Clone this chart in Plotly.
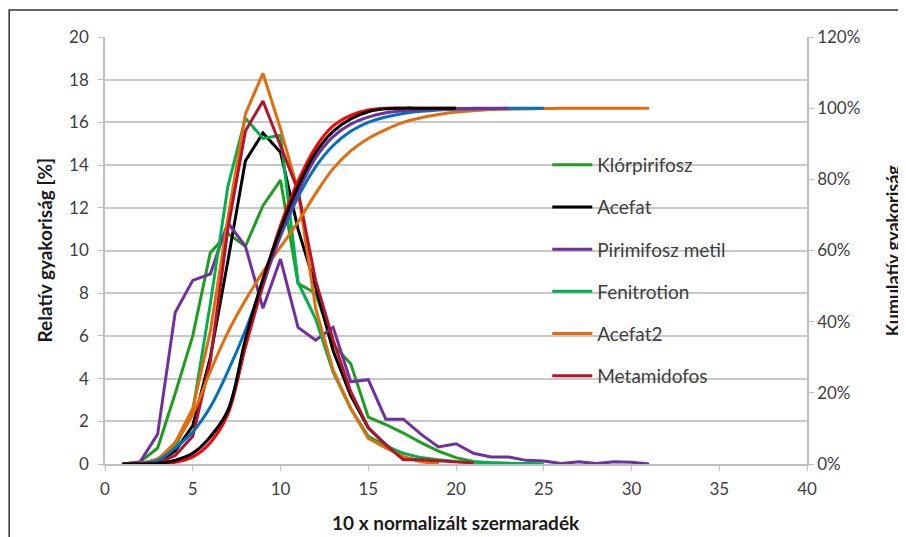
import plotly.graph_objects as go

# ---------------- data ----------------
klor_x = list(range(1, 24))
klor_y = [0, 0.1, 0.75, 3.3, 6.0, 9.9, 10.8, 10.2, 12.1, 13.3, 8.45, 8.0, 5.6, 4.7, 2.2,
          1.85, 1.45, 1.0, 0.6, 0.3, 0.12, 0.05, 0.02]

acefat_x = list(range(1, 20))
acefat_y = [0, 0, 0.1, 0.6, 1.8, 5.0, 9.5, 14.2, 15.5, 14.6, 11.0, 8.3, 5.3, 3.2, 1.7,
            0.9, 0.3, 0.15, 0.05]

pirim_x = list(range(1, 32))
pirim_y = [0, 0.1, 1.4, 7.1, 8.6, 8.9, 11.3, 10.2, 7.3, 9.6, 6.4, 5.8, 6.4, 3.85, 3.95,
           2.1, 2.1, 1.4, 0.8, 0.95, 0.5, 0.33, 0.33, 0.17, 0.14, 0.02, 0.1, 0.02, 0.1,
           0.08, 0.0]

fenit_x = list(range(1, 26))
fenit_y = [0, 0, 0.2, 0.8, 2.5, 7.5, 13.0, 16.2, 15.25, 15.4, 8.5, 6.8, 4.3, 2.6, 1.3,
           0.85, 0.5, 0.3, 0.2, 0.12, 0.08, 0.05, 0.04, 0.02, 0.01]

acefat2_x = list(range(1, 20))
acefat2_y = [0, 0, 0.2, 1.0, 2.6, 6.2, 11.5, 16.4, 18.3, 15.7, 12.8, 7.3, 4.4, 2.6, 1.2,
             0.75, 0.35, 0.1, 0.02]

metam_x = list(range(1, 22))
metam_y = [0, 0, 0.05, 0.4, 1.3, 4.8, 11.0, 15.6, 17.0, 14.9, 12.8, 8.6, 5.8, 3.4, 1.7,
           0.9, 0.2, 0.2, 0.15, 0.1, 0.05]

# cumulative curves (right axis, fraction)
cum_red_x = list(range(1, 21))
cum_red_y = [0, 0, 0.001, 0.005, 0.02, 0.06, 0.14, 0.33, 0.51, 0.67, 0.795, 0.89, 0.95,
             0.98, 0.995, 1.0, 1.0, 1.0, 1.0, 1.0]

cum_black_x = list(range(1, 21))
cum_black_y = [0, 0, 0.002, 0.01, 0.03, 0.077, 0.15, 0.35, 0.52, 0.66, 0.78, 0.875, 0.935,
               0.97, 0.99, 0.998, 1.0, 1.0, 1.0, 1.0]

cum_purple_x = list(range(1, 24))
cum_purple_y = [0, 0, 0.002, 0.01, 0.03, 0.075, 0.15, 0.33, 0.5, 0.645, 0.765, 0.86, 0.92,
                0.955, 0.975, 0.987, 0.993, 0.996, 0.998, 0.999, 1.0, 1.0, 1.0]

cum_blue_x = list(range(1, 26))
cum_blue_y = [0, 0.002, 0.01, 0.045, 0.09, 0.16, 0.26, 0.375, 0.51, 0.64, 0.75, 0.835,
              0.895, 0.935, 0.96, 0.975, 0.985, 0.991, 0.995, 0.997, 0.998, 0.999, 1.0,
              1.0, 1.0]

cum_orange_x = list(range(1, 32))
cum_orange_y = [0, 0.003, 0.015, 0.06, 0.14, 0.26, 0.37, 0.46, 0.54, 0.61, 0.68, 0.76,
                0.83, 0.88, 0.915, 0.94, 0.96, 0.973, 0.982, 0.989, 0.993, 0.996, 0.997,
                0.998, 0.999, 1.0, 1.0, 1.0, 1.0, 1.0, 1.0]

x_ticks = [0, 5, 10, 15, 20, 25, 30, 35, 40]

# ---------------- figure ----------------
fig = go.Figure()

cum_series = [
    (cum_orange_x, cum_orange_y, "#E46C0A"),
    (cum_blue_x, cum_blue_y, "#0070C0"),
    (cum_purple_x, cum_purple_y, "#7030A0"),
    (cum_red_x, cum_red_y, "#FF0000"),
    (cum_black_x, cum_black_y, "#000000"),
]
for cx, cy, col in cum_series:
    fig.add_trace(go.Scatter(x=cx, y=cy, mode="lines", yaxis="y2", showlegend=False,
                             line=dict(color=col, width=3, shape="spline", smoothing=1.0),
                             hoverinfo="skip"))

freq_series = [
    ("Klórpirifosz", klor_x, klor_y, "#1E9E1E"),
    ("Acefat", acefat_x, acefat_y, "#000000"),
    ("Pirimifosz metil", pirim_x, pirim_y, "#7030A0"),
    ("Fenitrotion", fenit_x, fenit_y, "#00B050"),
    ("Acefat2", acefat2_x, acefat2_y, "#E46C0A"),
    ("Metamidofos", metam_x, metam_y, "#B5132B"),
]
for i, (name, fx, fy, col) in enumerate(freq_series):
    fig.add_trace(go.Scatter(x=fx, y=fy, mode="lines", name=name, legendgroup=f"g{i}",
                             line=dict(color=col, width=3)))

font_family = "Lato, 'Open Sans', sans-serif"
title_font = dict(family=font_family, size=19, color="#1a1a1a")

fig.update_layout(
    width=906, height=537,
    margin=dict(l=97, r=107, t=29, b=81, autoexpand=False),
    paper_bgcolor="white", plot_bgcolor="white",
    font=dict(family=font_family, size=17, color="#404040"),
    xaxis=dict(range=[0, 40], tickvals=x_ticks, showgrid=False, zeroline=False,
               showline=True, linecolor="#BFBFBF", linewidth=1.5,
               ticks="outside", ticklen=5, tickcolor="#BFBFBF", ticklabelstandoff=4,
               tickfont=dict(size=17, color="#404040")),
    yaxis=dict(range=[0, 20], dtick=2, showgrid=True, gridcolor="#C8C8C8", gridwidth=1.5,
               zeroline=False, showline=True, linecolor="#BFBFBF", linewidth=1.5,
               ticks="outside", ticklen=5, tickcolor="#BFBFBF", ticklabelstandoff=6,
               tickfont=dict(size=17, color="#404040")),
    yaxis2=dict(range=[0, 1.2], dtick=0.2, tickformat=".0%", overlaying="y", side="right",
                showgrid=False, zeroline=False, showline=True, linecolor="#BFBFBF",
                linewidth=1.5, ticks="outside", ticklen=5, tickcolor="#BFBFBF",
                tickfont=dict(size=17, color="#404040")),
    legend=dict(x=0.63, y=0.745, xanchor="left", yanchor="top", bgcolor="rgba(0,0,0,0)",
                font=dict(size=19, color="#404040"), tracegroupgap=14.5,
                itemwidth=40),
    annotations=[
        dict(text="<b>10 x normalizált szermaradék</b>", xref="paper", yref="paper",
             x=0.5, y=-0.136, xanchor="center", yanchor="middle", showarrow=False,
             font=title_font),
        dict(text="<b>Relatív gyakoriság [%]</b>", xref="paper", yref="paper",
             x=-0.0855, y=0.5, xanchor="center", yanchor="middle", showarrow=False,
             textangle=-90, font=title_font),
        dict(text="<b>Kumulatív gyakoriság</b>", xref="paper", yref="paper",
             x=1.122, y=0.5, xanchor="center", yanchor="middle", showarrow=False,
             textangle=-90, font=dict(family=font_family, size=18, color="#1a1a1a")),
    ],
    shapes=[dict(type="rect", xref="paper", yref="paper", x0=-0.1365, x1=1.2,
                 y0=-0.3, y1=1.063, line=dict(color="#333333", width=1.5),
                 fillcolor="rgba(0,0,0,0)")],
)

fig.write_html("out.html")
